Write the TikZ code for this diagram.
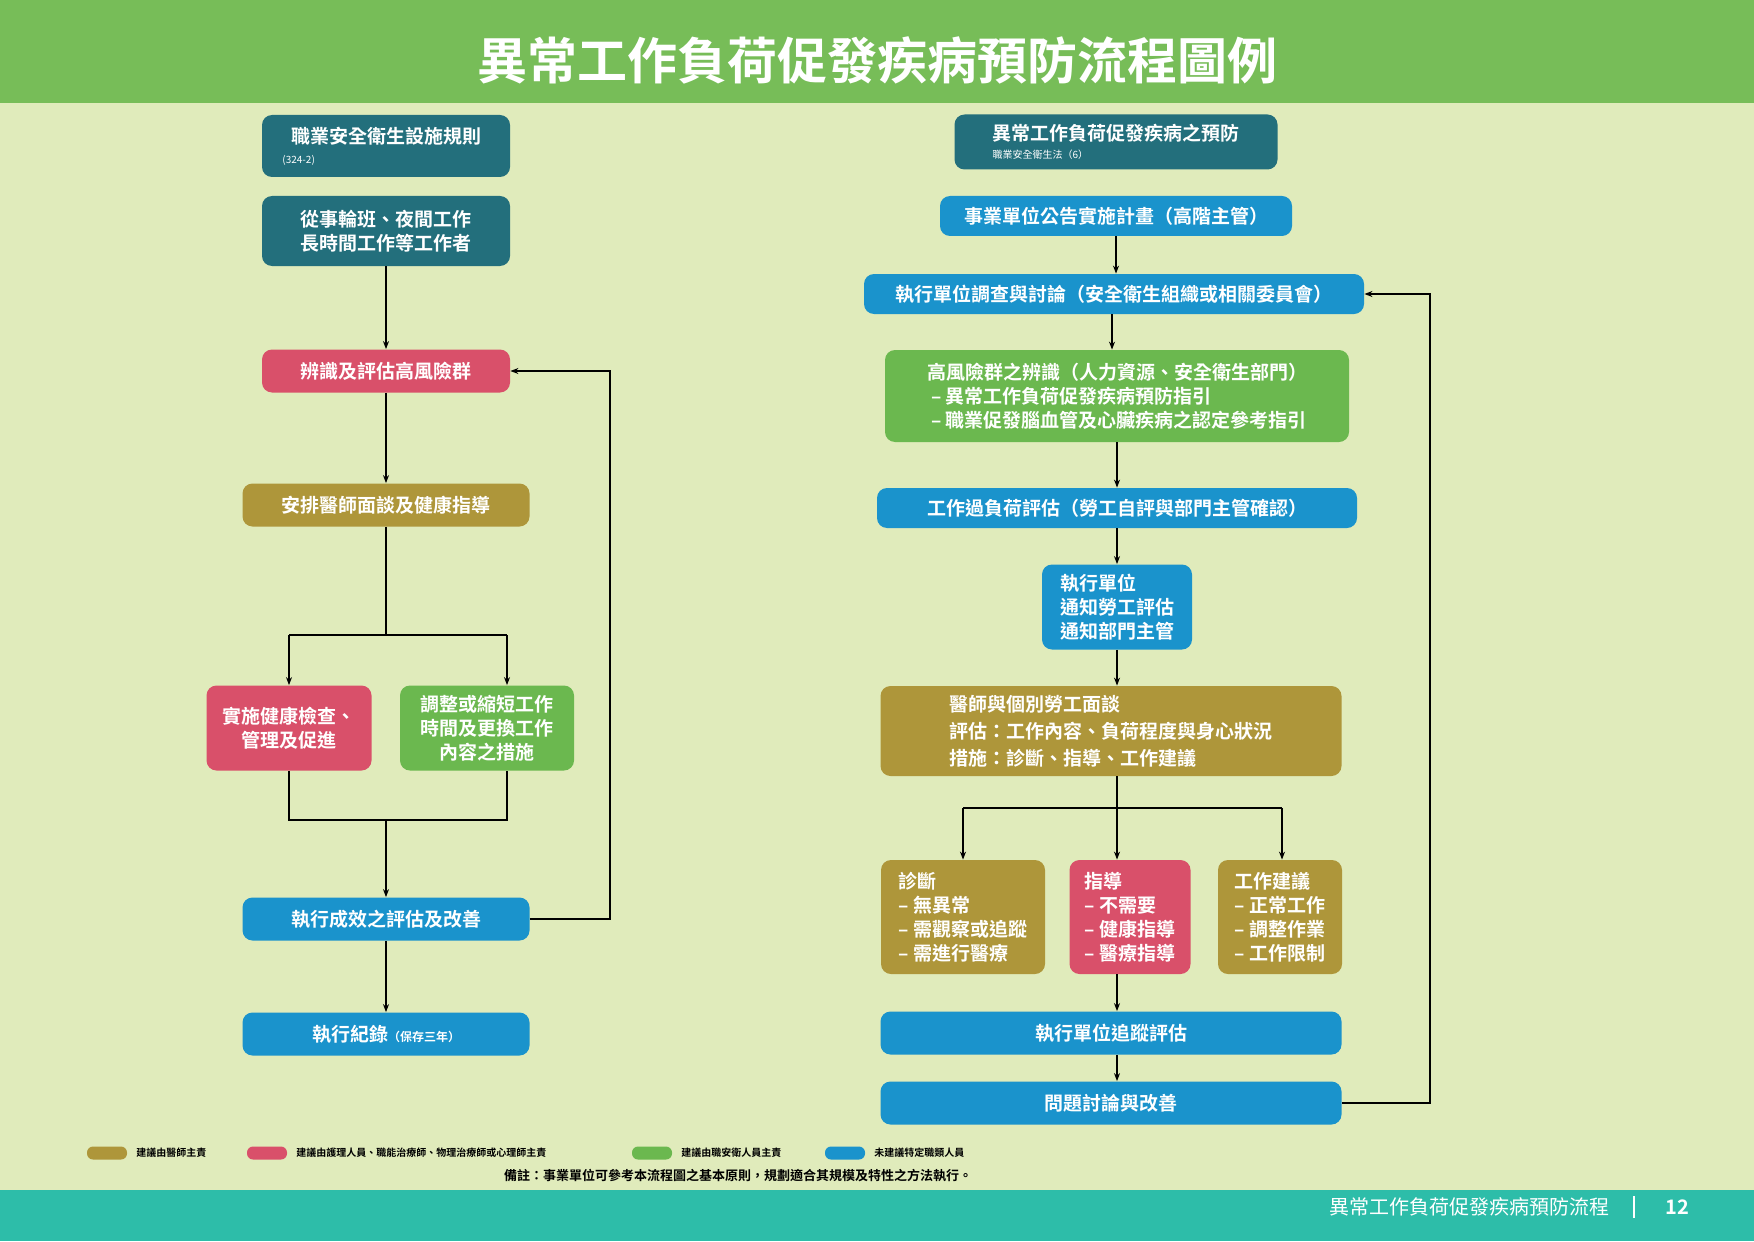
\documentclass[tikz,border=0pt]{standalone}
\usepackage{fontspec}
\setmainfont{Noto Sans CJK TC}[BoldFont={Noto Sans CJK TC Bold}]
\usetikzlibrary{arrows.meta}
\definecolor{bgc}{HTML}{E0EBBB}
\definecolor{topg}{HTML}{77BD58}
\definecolor{foot}{HTML}{2DBDA9}
\definecolor{dteal}{HTML}{236F7C}
\definecolor{redc}{HTML}{D9506A}
\definecolor{olive}{HTML}{AE963A}
\definecolor{greenc}{HTML}{6BB84F}
\definecolor{bluec}{HTML}{1A93CC}
\tikzset{
  box/.style={rectangle, rounded corners=5pt, text=white, font=\bfseries\fontsize{9.5}{12}\selectfont, align=center, inner sep=0pt},
  arrow/.style={semithick,-{Stealth[length=4pt,width=3pt]}},
  line/.style={semithick},
  swatch/.style={rounded corners=3pt, minimum width=20pt, minimum height=6.5pt, inner sep=0pt},
  legend/.style={font=\bfseries\fontsize{5}{6}\selectfont, anchor=west, inner sep=0pt}
}
\begin{document}
\begin{tikzpicture}[x=0.5pt,y=-0.5pt]
  \fill[bgc] (0,0) rectangle (1754,1241);
  \fill[topg] (0,0) rectangle (1754,103);
  \fill[foot] (0,1190) rectangle (1754,1241);
  \node (title) at (877,60) [text=white, font=\bfseries\fontsize{25}{30}\selectfont] {異常工作負荷促發疾病預防流程圖例};

  % left column
  \node (rule) at (386,146) [box, fill=dteal, minimum width=124pt, minimum height=31pt] {職業安全衛生設施規則\\[-2pt]\hspace*{-1.4em}\makebox[9.5em][l]{\fontsize{5}{6}\selectfont\mdseries(324-2)}};
  \node (workers) at (386,231) [box, fill=dteal, minimum width=124pt, minimum height=35pt] {從事輪班、夜間工作\\長時間工作等工作者};
  \node (identify) at (386,371) [box, fill=redc, minimum width=124pt, minimum height=21.5pt] {辨識及評估高風險群};
  \node (arrange) at (386,505) [box, fill=olive, minimum width=143.5pt, minimum height=21.5pt] {安排醫師面談及健康指導};
  \node (health) at (289,728) [box, fill=redc, minimum width=82.5pt, minimum height=42.5pt] {實施健康檢查、\\管理及促進};
  \node (adjust) at (487,728) [box, fill=greenc, minimum width=87pt, minimum height=42.5pt] {調整或縮短工作\\時間及更換工作\\內容之措施};
  \node (evaluate) at (386,919) [box, fill=bluec, minimum width=143.5pt, minimum height=21.5pt] {執行成效之評估及改善};
  \node (record) at (386,1034) [box, fill=bluec, minimum width=143.5pt, minimum height=21.5pt] {執行紀錄{\fontsize{6}{7}\selectfont（保存三年）}};

  % right column
  \node (prevent) at (1116,142) [box, fill=dteal, minimum width=161.5pt, minimum height=27.5pt] {異常工作負荷促發疾病之預防\\[-3pt]\makebox[13em][l]{\fontsize{5}{6}\selectfont\mdseries 職業安全衛生法（6）}};
  \node (announce) at (1116,216) [box, fill=bluec, minimum width=176pt, minimum height=20pt] {事業單位公告實施計畫（高階主管）};
  \node (exec) at (1114,294) [box, fill=bluec, minimum width=250pt, minimum height=20pt] {執行單位調查與討論（安全衛生組織或相關委員會）};
  \node (highrisk) at (1117,396) [box, fill=greenc, minimum width=232pt, minimum height=46pt, align=left] {高風險群之辨識（人力資源、安全衛生部門）\\\ – 異常工作負荷促發疾病預防指引\\\ – 職業促發腦血管及心臟疾病之認定參考指引};
  \node (overload) at (1117,508) [box, fill=bluec, minimum width=240pt, minimum height=20pt] {工作過負荷評估（勞工自評與部門主管確認）};
  \node (notify) at (1117,607) [box, fill=bluec, minimum width=75pt, minimum height=42.5pt, align=left] {執行單位\\通知勞工評估\\通知部門主管};
  \node (doctor) at (1111,731) [box, fill=olive, minimum width=230.5pt, minimum height=45pt, align=left, font=\bfseries\fontsize{9.5}{13.5}\selectfont] {醫師與個別勞工面談\\評估：工作內容、負荷程度與身心狀況\\措施：診斷、指導、工作建議};
  \node (diag) at (963,917) [box, fill=olive, minimum width=82pt, minimum height=57pt, align=left, font=\bfseries\fontsize{9.5}{12}\selectfont] {診斷\\– 無異常\\– 需觀察或追蹤\\– 需進行醫療};
  \node (guide) at (1130,917) [box, fill=redc, minimum width=60.5pt, minimum height=57pt, align=left, font=\bfseries\fontsize{9.5}{12}\selectfont] {指導\\– 不需要\\– 健康指導\\– 醫療指導};
  \node (work) at (1280,917) [box, fill=olive, minimum width=62pt, minimum height=57pt, align=left, font=\bfseries\fontsize{9.5}{12}\selectfont] {工作建議\\– 正常工作\\– 調整作業\\– 工作限制};
  \node (track) at (1111,1033) [box, fill=bluec, minimum width=230.5pt, minimum height=21.5pt] {執行單位追蹤評估};
  \node (problem) at (1111,1103) [box, fill=bluec, minimum width=230.5pt, minimum height=21.5pt] {問題討論與改善};

  % left connectors
  \draw[arrow] (workers) -- (identify);
  \draw[arrow] (identify) -- (arrange);
  \draw[line] (arrange) -- (386,635);
  \draw[arrow] (289,635) -- (health.north -| 289,0);
  \draw[arrow] (507,635) -- (adjust.north -| 507,0);
  \draw[line] (289,635) -- (507,635);
  \draw[line] (health.south) -- (289,820) -- (507,820) -- (adjust.south -| 507,0);
  \draw[arrow] (386,820) -- (evaluate);
  \draw[arrow] (evaluate.east) -- (610,919) -- (610,371) -- (identify.east);
  \draw[arrow] (evaluate) -- (record);

  % right connectors
  \draw[arrow] (announce) -- (exec.north -| announce);
  \draw[arrow] (exec.south -| 1112,0) -- (highrisk.north -| 1112,0);
  \draw[arrow] (highrisk) -- (overload);
  \draw[arrow] (overload) -- (notify);
  \draw[arrow] (notify) -- (doctor.north -| notify);
  \draw[line] (doctor.south -| notify) -- (1117,808);
  \draw[line] (963,808) -- (1282,808);
  \draw[arrow] (963,808) -- (diag.north);
  \draw[arrow] (1117,808) -- (guide.north -| 1117,0);
  \draw[arrow] (1282,808) -- (work.north -| 1282,0);
  \draw[arrow] (guide.south -| 1117,0) -- (track.north -| 1117,0);
  \draw[arrow] (track.south -| 1117,0) -- (problem.north -| 1117,0);
  \draw[arrow] (problem.east) -- (1430,1103) -- (1430,294) -- (exec.east);

  % legend
  \node (swA) at (107,1153) [swatch, fill=olive] {};
  \node (lgA) at (136,1153) [legend] {建議由醫師主責};
  \node (swB) at (267,1153) [swatch, fill=redc] {};
  \node (lgB) at (296,1153) [legend] {建議由護理人員、職能治療師、物理治療師或心理師主責};
  \node (swC) at (652,1153) [swatch, fill=greenc] {};
  \node (lgC) at (681,1153) [legend] {建議由職安衛人員主責};
  \node (swD) at (845,1153) [swatch, fill=bluec] {};
  \node (lgD) at (874,1153) [legend] {未建議特定職類人員};
  \node (note) at (738,1176) [font=\bfseries\fontsize{6.5}{8}\selectfont, inner sep=0pt] {備註：事業單位可參考本流程圖之基本原則，規劃適合其規模及特性之方法執行。};

  % footer
  \node (foottext) at (1610,1207) [anchor=east, text=white, font=\fontsize{10}{12}\selectfont, inner sep=0pt] {異常工作負荷促發疾病預防流程};
  \draw[white, semithick] (1634,1196) -- (1634,1218);
  \node (page) at (1677,1207) [text=white, font=\bfseries\fontsize{10}{12}\selectfont, inner sep=0pt] {12};
\end{tikzpicture}
\end{document}
